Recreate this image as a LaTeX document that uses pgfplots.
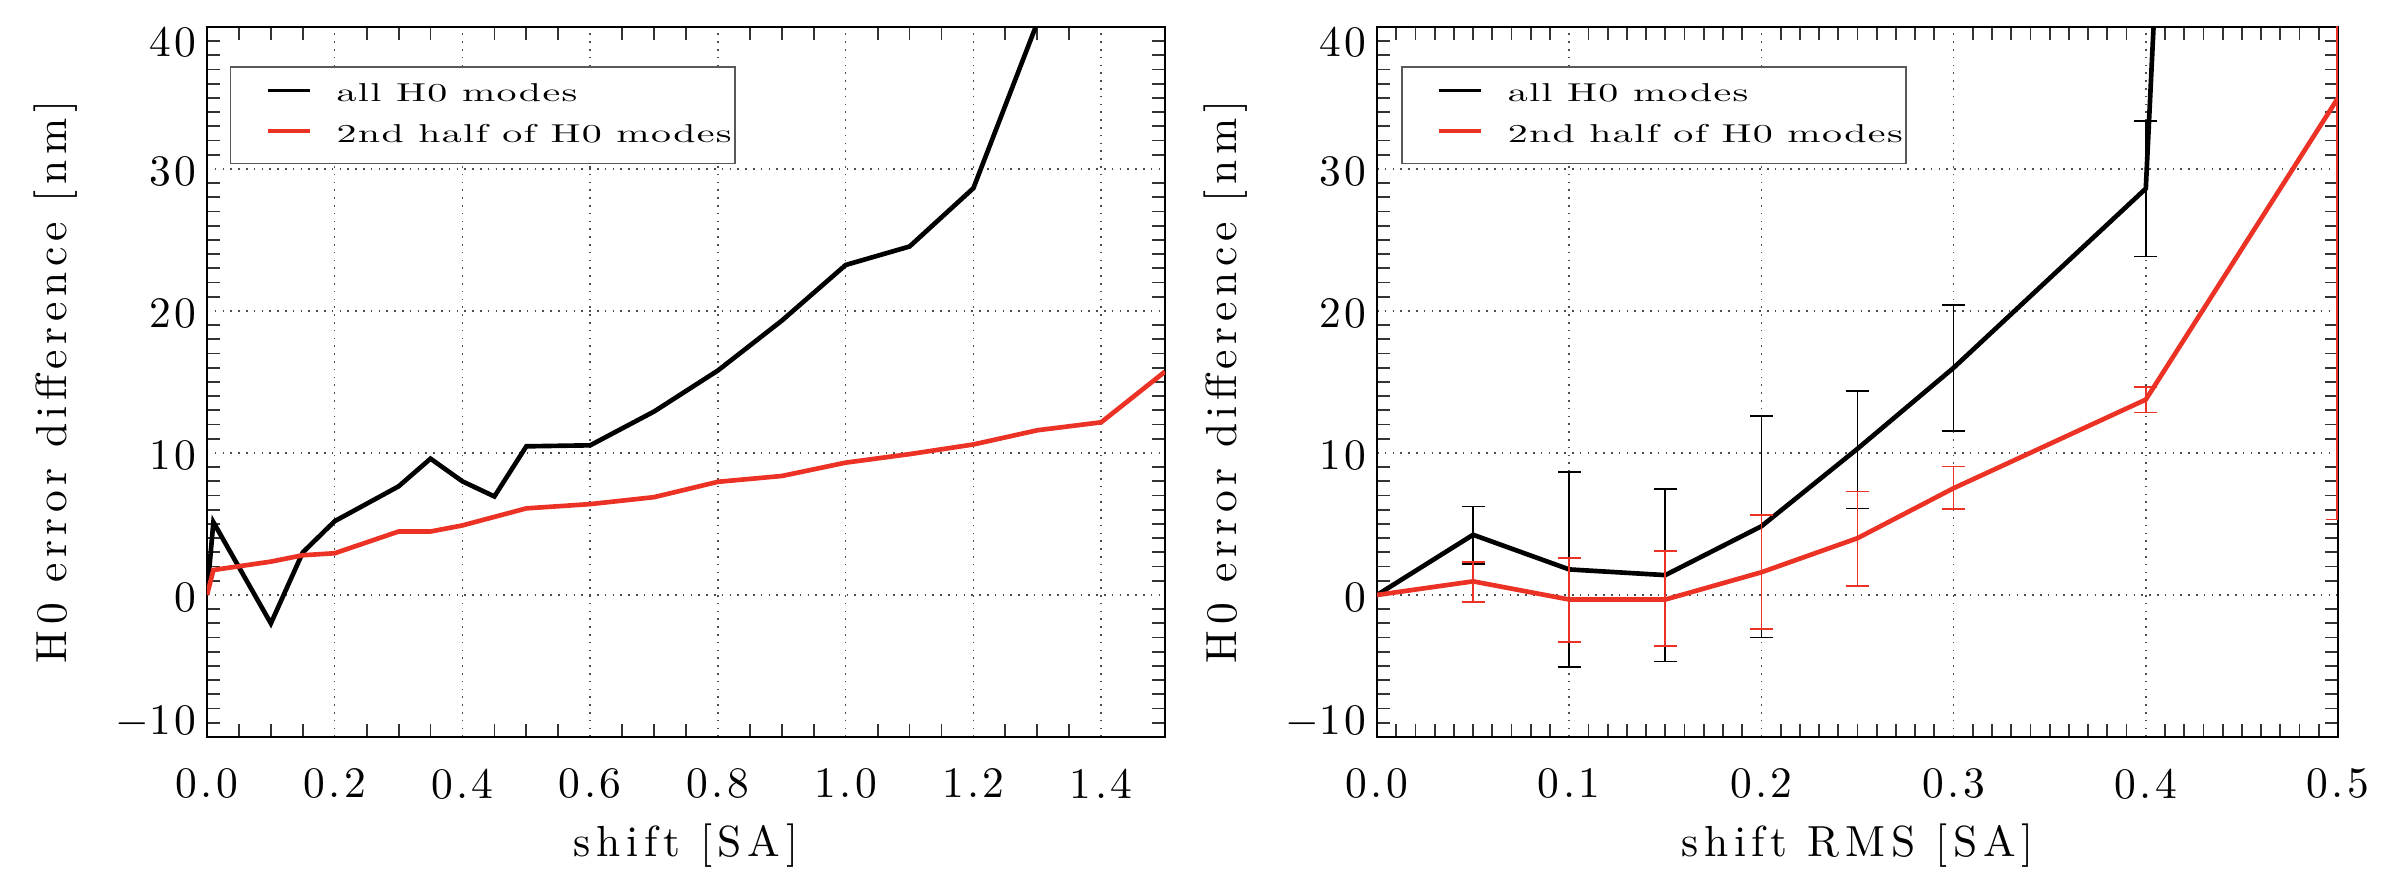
\documentclass[border=0pt]{standalone}
\usepackage{fontspec}
\setmainfont{lmroman10-regular.otf}
\newfontfamily\legfam{lmroman10-regular.otf}[FakeStretch=1.55,LetterSpace=5]
\newfontfamily\labfam{lmroman10-regular.otf}[LetterSpace=13]
\newfontfamily\tickfam{lmroman10-regular.otf}[LetterSpace=8]
\usepackage{pgfplots}
\usepackage{pgfplotstable}
\pgfplotsset{compat=1.18}
\definecolor{myred}{RGB}{235,50,36}

\pgfplotstableread{
x y
0 0
0.01 5.13
0.1 -2.0
0.15 3.0
0.2 5.2
0.3 7.65
0.35 9.6
0.4 8.0
0.45 6.94
0.5 10.47
0.6 10.54
0.7 12.92
0.8 15.81
0.9 19.32
1.0 23.24
1.1 24.54
1.2 28.65
1.3 40.3
1.4 60
}\blackL
\pgfplotstableread{
x y
0 0
0.01 1.76
0.1 2.35
0.15 2.8
0.2 2.94
0.3 4.47
0.35 4.47
0.4 4.9
0.45 5.5
0.5 6.1
0.6 6.4
0.7 6.89
0.8 7.97
0.9 8.38
1.0 9.32
1.1 9.92
1.2 10.6
1.3 11.6
1.4 12.16
1.5 15.73
}\redL
\pgfplotstableread{
x y
0 0
0.05 4.24
0.1 1.8
0.15 1.4
0.2 4.84
0.25 10.3
0.3 16.0
0.4 28.62
0.45 170
}\blackR
% x, mean, upper end, lower end, plus, minus
\pgfplotstableread{
x y hi lo ep em
0.05 4.24 6.24 2.20 2.0 2.04
0.1 1.8 8.64 -5.08 6.84 6.88
0.15 1.4 7.48 -4.68 6.08 6.08
0.2 4.84 12.60 -3.00 7.76 7.84
0.25 10.3 14.36 6.08 4.06 4.22
0.3 16.0 20.40 11.56 4.4 4.44
0.4 28.62 33.40 23.84 4.78 4.78
}\blackRerr
\pgfplotstableread{
x y
0 0
0.05 0.96
0.1 -0.32
0.15 -0.32
0.2 1.6
0.25 4.0
0.3 7.52
0.4 13.76
0.5 35.0
}\redR
\pgfplotstableread{
x y hi lo ep em
0.05 0.96 2.32 -0.48 1.36 1.44
0.1 -0.32 2.60 -3.32 2.92 3.0
0.15 -0.32 3.08 -3.60 3.4 3.28
0.2 1.6 5.64 -2.40 4.04 4.0
0.25 4.0 7.28 0.64 3.28 3.36
0.3 7.52 9.04 6.04 1.52 1.48
0.4 13.76 14.64 12.84 0.88 0.92
0.4995 35.0 64.68 5.32 29.68 29.68
}\redRerr

\pgfplotsset{
  errbar/.style={draw=none, mark=none, forget plot,
      error bars/.cd, y dir=both, y explicit, error mark=none,
      error bar style={line width=0.55pt, draw=#1}},
  errcap/.style={#1, forget plot, only marks, mark=-, mark size=3.8pt,
      mark options={line width=0.55pt, draw=#1, solid}},
  idl/.style={
    anchor=south west, scale only axis,
    width=319.333pt, height=236.667pt,
    ymin=-10, ymax=40,
    clip marker paths=true,
    ytick={-10,0,10,20,30,40},
    yticklabels={\raisebox{5pt}[\height][\depth]{$-$10},\raisebox{-1pt}[\height][\depth]{0},\raisebox{-1pt}[\height][\depth]{10},\raisebox{-1pt}[\height][\depth]{20},\raisebox{-1pt}[\height][\depth]{30},\raisebox{-5pt}[\height][\depth]{40}},
    minor y tick num=9,
    tick align=inside,
    major tick length=0pt, minor tick length=4.3pt,
    every minor tick/.style={line width=0.6pt, black!80},
    grid=major,
    major grid style={line width=0.5pt, black!70, dash pattern=on 0.5pt off 2.1pt},
    axis line style={line width=0.6pt, black},
    tick label style={font=\tickfam\fontsize{14.5}{17}\selectfont},
    xticklabel style={yshift=-7pt},
    every axis x label/.style={at={([yshift=-40pt]axis description cs:0.5,0)}, anchor=base, font=\labfam\fontsize{14.5}{17}\selectfont},
    every axis y label/.style={at={([xshift=-46.7pt]axis description cs:0,0.5)}, rotate=90, anchor=base, font=\labfam\fontsize{14.5}{17}\selectfont},
    ylabel={H0 error difference [nm]},
    legend style={at={(axis description cs:0.024,0.945)}, anchor=north west,
      draw=black!65, line width=0.5pt, fill=white,
      inner xsep=1pt, inner ysep=5.6pt, row sep=6.0pt, column sep=8.3pt,
      cells={anchor=base west}, nodes={inner sep=0pt},
      font=\legfam\fontsize{8.6}{10}\selectfont},
    legend image code/.code={\path (0pt,0pt); \draw[##1,line width=1.1pt] (10.7pt,3.7pt) -- (24.7pt,3.7pt);},
  }
}

\begin{document}
\begin{tikzpicture}
\useasboundingbox (0,0) rectangle (800pt,297.333pt);
\begin{axis}[idl, at={(69pt,51.667pt)},
  xmin=0, xmax=1.5,
  xtick={0,0.2,0.4,0.6,0.8,1.0,1.2,1.4},
  xticklabels={0.0,0.2,0.4,0.6,0.8,1.0,1.2,1.4},
  minor x tick num=3,
  xlabel={shift [SA]}]
\addplot[black, line width=1.55pt] table[x=x,y=y] {\blackL};
\addlegendentry{all H0 modes}
\addplot[myred, line width=1.55pt] table[x=x,y=y] {\redL};
\addlegendentry{2nd half of H0 modes}
\end{axis}
\begin{axis}[idl, at={(459pt,51.667pt)}, width=320.333pt,
  xmin=0, xmax=0.5,
  xtick={0,0.1,0.2,0.3,0.4,0.5},
  xticklabels={0.0,0.1,0.2,0.3,0.4,0.5},
  minor x tick num=9,
  xlabel={shift RMS [SA]},
  legend style={at={(axis description cs:0.025,0.945)}}]
\addplot[black, line width=1.55pt] table[x=x,y=y] {\blackR};
\addlegendentry{all H0 modes}
\addplot[myred, line width=1.55pt] table[x=x,y=y] {\redR};
\addlegendentry{2nd half of H0 modes}
\addplot[errbar=black] table[x=x,y=y,y error plus=ep,y error minus=em] {\blackRerr};
\addplot[errcap=black] table[x=x,y=hi] {\blackRerr};
\addplot[errcap=black] table[x=x,y=lo] {\blackRerr};
\addplot[errbar=myred] table[x=x,y=y,y error plus=ep,y error minus=em] {\redRerr};
\addplot[errcap=myred] table[x=x,y=hi] {\redRerr};
\addplot[errcap=myred] table[x=x,y=lo] {\redRerr};
\end{axis}
\end{tikzpicture}
\end{document}
